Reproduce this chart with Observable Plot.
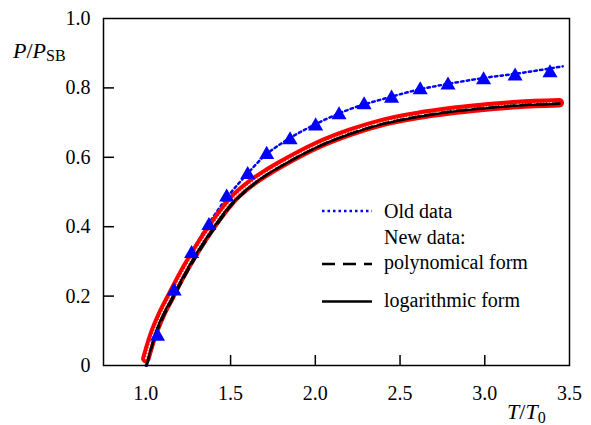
<!DOCTYPE html>
<html><head><meta charset="utf-8">
<script src="https://cdn.jsdelivr.net/npm/d3@7"></script>
<script src="https://cdn.jsdelivr.net/npm/@observablehq/plot@0.6"></script>
<style>
body{margin:0;background:#fff;}
#wrap{position:relative;width:591px;height:425px;font-family:"Liberation Serif",serif;background:#fff;}
#wrap svg{position:absolute;left:0;top:0;}
</style></head><body>
<div id="wrap"></div>
<script>
// Old data (blue triangles)
const oldX = [1.069,1.167,1.270,1.372,1.477,1.601,1.713,1.851,2.002,2.140,2.288,2.450,2.619,2.783,2.993,3.179,3.385];
const oldY = [0.084,0.214,0.322,0.403,0.485,0.550,0.608,0.650,0.690,0.722,0.751,0.770,0.794,0.808,0.823,0.834,0.843];
// Old data fit (blue dotted)
const oldFitX = [1.0,1.1,1.2,1.3,1.4,1.5,1.6,1.7,1.8,2.0,2.2,2.4,2.6,2.8,3.0,3.2,3.46];
const oldFitY = [0.0,0.14,0.26,0.352,0.43,0.497,0.553,0.604,0.64,0.695,0.738,0.768,0.794,0.813,0.829,0.842,0.862];
// New data (red open circles)
const newX = [1.0,1.04,1.09,1.145,1.22,1.30,1.41,1.52,1.614,1.72,1.811,2.008,2.205,2.402,2.599,2.796,2.993,3.190,3.44];
const newY = [0.02,0.085,0.145,0.198,0.268,0.334,0.415,0.483,0.523,0.558,0.584,0.634,0.672,0.701,0.720,0.734,0.744,0.752,0.757];
// New data fits
const fitX = [1.005,1.05,1.1,1.15,1.2,1.3,1.4,1.5,1.6,1.7,1.8,2.0,2.2,2.4,2.6,2.8,3.0,3.2,3.44];
const logY = [0.0,0.085,0.145,0.191,0.238,0.324,0.398,0.463,0.509,0.546,0.575,0.627,0.666,0.696,0.716,0.731,0.741,0.749,0.754];
const polyY = [0.0,0.078,0.138,0.184,0.231,0.317,0.392,0.459,0.507,0.545,0.575,0.627,0.667,0.697,0.717,0.732,0.742,0.750,0.755];
// Ticks
const xTicks = [1.0,1.5,2.0,2.5,3.0,3.5];
const xInnerTicks = [1.5,2.0,2.5,3.0];
const yTicks = [0,0.2,0.4,0.6,0.8,1.0];
const yInnerTicks = [0.2,0.4,0.6,0.8];
const legendItems = ["Old data","New data:","polynomical form","logarithmic form"];

const zip = (xs, ys) => xs.map((x, i) => ({x, y: ys[i]}));
const oldData = zip(oldX, oldY), oldFit = zip(oldFitX, oldFitY), newData = zip(newX, newY);
const logData = zip(fitX, logY), polyData = zip(fitX, polyY);

const plot = Plot.plot({
  width: 591, height: 425,
  marginLeft: 103, marginRight: 22, marginTop: 18, marginBottom: 60,
  style: {fontFamily: "Liberation Serif, serif", fontSize: "20px", background: "transparent", color: "#000"},
  x: {domain: [0.75, 3.5]},
  y: {domain: [0, 1]},
  marks: [
    Plot.line(oldFit, {x: "x", y: "y", stroke: "#0000ff", strokeWidth: 2.5, strokeDasharray: "2.5,3.2", curve: "monotone-x"}),
    Plot.line(newData, {x: "x", y: "y", stroke: "#ff0000", strokeWidth: 9.5, strokeLinecap: "round", curve: "monotone-x"}),
    Plot.line(newData, {x: "x", y: "y", stroke: "#fff", strokeWidth: 1.5, strokeDasharray: "1.2,1.8", curve: "monotone-x"}),
    Plot.line(polyData, {x: "x", y: "y", stroke: "#000", strokeWidth: 2.5, strokeDasharray: "10,6", curve: "monotone-x"}),
    Plot.line(logData, {x: "x", y: "y", stroke: "#000", strokeWidth: 2.2, curve: "monotone-x"}),
    Plot.dot(oldData, {x: "x", y: "y", symbol: "triangle", r: 5.6, fill: "#0000ff", stroke: "none"}),
    Plot.frame({stroke: "#000", strokeWidth: 1.5}),
    Plot.axisX({ticks: xTicks, tickSize: 0, tickPadding: 20, tickFormat: d => d.toFixed(1), label: null}),
    Plot.axisX({ticks: xInnerTicks, tickSize: -10, strokeWidth: 1.5, tickFormat: () => "", label: null}),
    Plot.axisY({ticks: yTicks, tickSize: 0, tickPadding: 13, tickFormat: d => d === 0 ? "0" : d.toFixed(1), label: null}),
    Plot.axisY({ticks: yInnerTicks, tickSize: -11, strokeWidth: 1.5, tickFormat: () => "", label: null})
  ]
});
const wrap = document.getElementById("wrap");
wrap.appendChild(plot);

// Overlay: axis titles and legend
const ov = d3.select(wrap).append("svg").attr("width", 591).attr("height", 425)
  .style("font-family", "Liberation Serif, serif").style("pointer-events", "none");
const yt = ov.append("text").attr("x", 13).attr("y", 58).attr("font-size", 22);
yt.append("tspan").attr("font-style", "italic").text("P");
yt.append("tspan").text("/");
yt.append("tspan").attr("font-style", "italic").text("P");
yt.append("tspan").attr("font-size", 16).attr("dy", 3).text("SB");
const xt = ov.append("text").attr("x", 507).attr("y", 419).attr("font-size", 22);
xt.append("tspan").attr("font-style", "italic").text("T");
xt.append("tspan").text("/");
xt.append("tspan").attr("font-style", "italic").text("T");
xt.append("tspan").attr("font-size", 16).attr("dy", 4).text("0");
const lg = ov.append("g").attr("font-size", 20);
lg.append("line").attr("x1", 322).attr("x2", 372).attr("y1", 211).attr("y2", 211)
  .attr("stroke", "#0000ff").attr("stroke-width", 2.5).attr("stroke-dasharray", "2.5,3");
lg.append("line").attr("x1", 322).attr("x2", 372).attr("y1", 264).attr("y2", 264)
  .attr("stroke", "#000").attr("stroke-width", 2.5).attr("stroke-dasharray", "13,8");
lg.append("line").attr("x1", 322).attr("x2", 372).attr("y1", 301.5).attr("y2", 301.5)
  .attr("stroke", "#000").attr("stroke-width", 2.5);
const ly = [218, 243.5, 269, 306.5];
legendItems.forEach((t, i) => lg.append("text").attr("x", 384).attr("y", ly[i]).text(t));
</script>
</body></html>
